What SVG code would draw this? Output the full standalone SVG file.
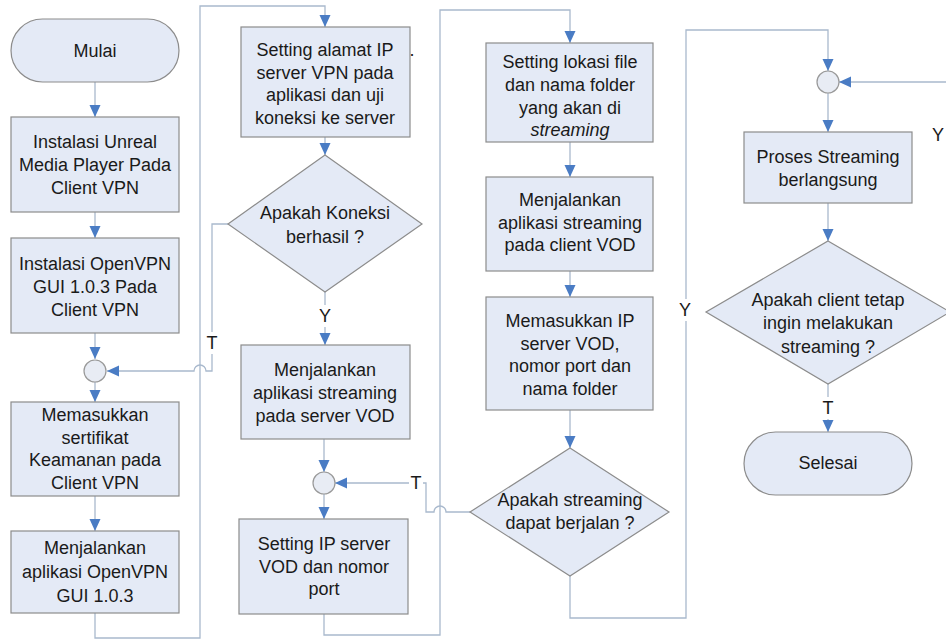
<svg xmlns="http://www.w3.org/2000/svg" width="946" height="640" viewBox="0 0 946 640">
<defs>
<marker id="ah" viewBox="0 0 12 12" refX="12" refY="6" markerWidth="12" markerHeight="12" orient="auto" markerUnits="userSpaceOnUse">
<path d="M0,0.5 L12,6 L0,11.5 z" fill="#4a7cc4"/>
</marker>
<style>
.box{fill:#e4eaf6;stroke:#8c8c8c;stroke-width:1.2}
.cir{fill:#e8ecf4;stroke:#999;stroke-width:1.2}
.ln{fill:none;stroke:#a9b9cd;stroke-width:1.3}
.ar{marker-end:url(#ah)}
text{font-family:"Liberation Sans",Arial,sans-serif;font-size:18px;fill:#1a1a1a;text-anchor:middle}
.lbl{fill:#fff;stroke:none}
</style>
</defs>
<rect width="946" height="640" fill="#fff"/>

<g id="connectors">
<path class="ln ar" d="M95,82 V117"/>
<path class="ln ar" d="M95,212 V238"/>
<path class="ln ar" d="M95,333 V359"/>
<path class="ln ar" d="M95,382 V402"/>
<path class="ln ar" d="M95,496 V531"/>
<path class="ln ar" d="M95,613 V638 H200 V6 H325 V27"/>
<path class="ln ar" d="M325,137 V155"/>
<path class="ln ar" d="M228,224 H212 V371 H206 A6,6 0 0 0 194,371 H107"/>
<path class="ln ar" d="M325,292 V345"/>
<path class="ln ar" d="M324,439 V472"/>
<path class="ln ar" d="M324,494 V519"/>
<path class="ln ar" d="M324,614 V635 H440 V10 H570 V43"/>
<path class="ln ar" d="M570,142 V177"/>
<path class="ln ar" d="M570,271 V297"/>
<path class="ln ar" d="M570,410 V448"/>
<path class="ln ar" d="M470,512 H446 A6,6 0 0 0 434,512 H426 V483 H335"/>
<path class="ln ar" d="M570,576 V618 H686 V30 H828 V71"/>
<path class="ln ar" d="M946,82 H839"/>
<path class="ln ar" d="M828,93 V132"/>
<path class="ln ar" d="M828,203 V241"/>
<path class="ln ar" d="M828,384 V432"/>
<rect class="lbl" x="316" y="305" width="18" height="22"/>
<text x="325" y="322">Y</text>
<rect class="lbl" x="204" y="332" width="16" height="22"/>
<text x="212" y="349">T</text>
<rect class="lbl" x="409" y="472" width="14" height="22"/>
<text x="416" y="489">T</text>
<rect class="lbl" x="676" y="299" width="18" height="22"/>
<text x="685" y="316">Y</text>
<rect class="lbl" x="820" y="397" width="16" height="22"/>
<text x="828" y="414">T</text>
<text x="932" y="141" style="text-anchor:start">Y</text>
</g>

<g id="mulai">
<rect class="box" x="11" y="19" width="168" height="63" rx="31.5"/>
<text x="95" y="57">Mulai</text>
</g>
<g id="instalasi-unreal">
<rect class="box" x="11" y="117" width="168" height="95"/>
<text x="95" y="148">Instalasi Unreal</text>
<text x="95" y="171">Media Player Pada</text>
<text x="95" y="194">Client VPN</text>
</g>
<g id="instalasi-openvpn">
<rect class="box" x="11" y="238" width="168" height="95"/>
<text x="95" y="270">Instalasi OpenVPN</text>
<text x="95" y="293">GUI 1.0.3 Pada</text>
<text x="95" y="316">Client VPN</text>
</g>
<g id="junction1">
<circle class="cir" cx="95" cy="371" r="11"/>
</g>
<g id="memasukkan-sertifikat">
<rect class="box" x="11" y="402" width="168" height="94"/>
<text x="95" y="421">Memasukkan</text>
<text x="95" y="444">sertifikat</text>
<text x="95" y="466">Keamanan pada</text>
<text x="95" y="489">Client VPN</text>
</g>
<g id="menjalankan-openvpn">
<rect class="box" x="11" y="531" width="168" height="82"/>
<text x="95" y="554">Menjalankan</text>
<text x="95" y="578">aplikasi OpenVPN</text>
<text x="95" y="602">GUI 1.0.3</text>
</g>

<g id="setting-ip-vpn">
<rect class="box" x="241" y="27" width="169" height="110"/>
<text x="325" y="56">Setting alamat IP</text>
<text x="325" y="79">server VPN pada</text>
<text x="325" y="101">aplikasi dan uji</text>
<text x="325" y="124">koneksi ke server</text>
<text x="412" y="56">.</text>
</g>
<g id="koneksi-berhasil">
<polygon class="box" points="325,155 422,224 325,292 228,224"/>
<text x="325" y="219">Apakah Koneksi</text>
<text x="325" y="243">berhasil ?</text>
</g>
<g id="menjalankan-server-vod">
<rect class="box" x="241" y="345" width="169" height="94"/>
<text x="325" y="376">Menjalankan</text>
<text x="325" y="399">aplikasi streaming</text>
<text x="325" y="422">pada server VOD</text>
</g>
<g id="junction2">
<circle class="cir" cx="324" cy="483" r="11"/>
</g>
<g id="setting-ip-vod">
<rect class="box" x="239" y="519" width="169" height="95"/>
<text x="324" y="550">Setting IP server</text>
<text x="324" y="573">VOD dan nomor</text>
<text x="324" y="595">port</text>
</g>

<g id="setting-lokasi">
<rect class="box" x="486" y="43" width="167" height="99"/>
<text x="570" y="68">Setting lokasi file</text>
<text x="570" y="91">dan nama folder</text>
<text x="570" y="114">yang akan di</text>
<text x="570" y="136" font-style="italic">streaming</text>
</g>
<g id="menjalankan-client-vod">
<rect class="box" x="486" y="177" width="167" height="94"/>
<text x="570" y="206">Menjalankan</text>
<text x="570" y="229">aplikasi streaming</text>
<text x="570" y="251">pada client VOD</text>
</g>
<g id="memasukkan-ip-vod">
<rect class="box" x="486" y="297" width="167" height="113"/>
<text x="570" y="327">Memasukkan IP</text>
<text x="570" y="350">server VOD,</text>
<text x="570" y="372">nomor port dan</text>
<text x="570" y="395">nama folder</text>
</g>
<g id="streaming-berjalan">
<polygon class="box" points="570,448 669,512 570,576 470,512"/>
<text x="570" y="506">Apakah streaming</text>
<text x="570" y="529">dapat berjalan ?</text>
</g>

<g id="junction3">
<circle class="cir" cx="828" cy="82" r="11"/>
</g>
<g id="proses-streaming">
<rect class="box" x="744" y="132" width="168" height="71"/>
<text x="828" y="163">Proses Streaming</text>
<text x="828" y="186">berlangsung</text>
</g>
<g id="client-tetap">
<polygon class="box" points="828,241 950,312 828,384 706,312"/>
<text x="828" y="306">Apakah client tetap</text>
<text x="828" y="329">ingin melakukan</text>
<text x="828" y="353">streaming ?</text>
</g>
<g id="selesai">
<rect class="box" x="744" y="432" width="168" height="63" rx="31.5"/>
<text x="828" y="469">Selesai</text>
</g>
</svg>
